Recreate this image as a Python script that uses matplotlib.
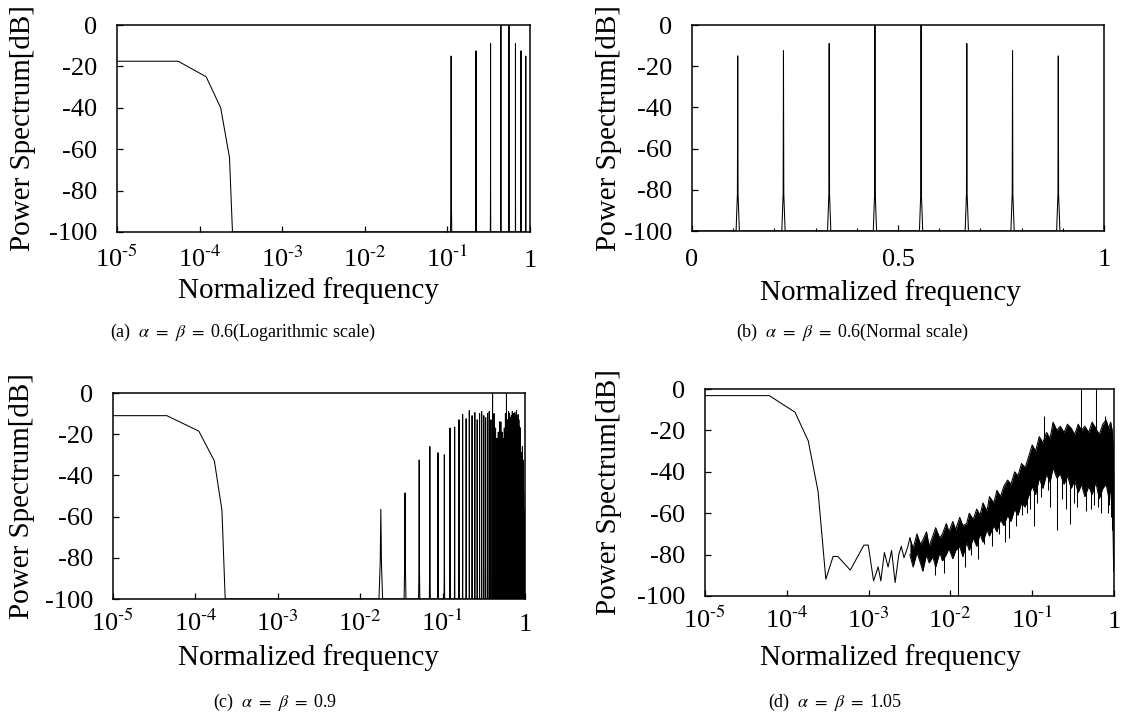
import matplotlib
matplotlib.use("Agg")
import matplotlib.pyplot as plt
import numpy as np

plt.rcParams["font.family"] = ["Liberation Serif", "DejaVu Serif"]
plt.rcParams["mathtext.fontset"] = "stix"
plt.rcParams["axes.unicode_minus"] = False

# --- (a)/(b) alpha = beta = 0.6 ---
a_low_f = [1e-5, 5.5e-5, 1.2e-4, 1.8e-4, 2.3e-4, 2.5e-4]
a_low_db = [-17.5, -17.5, -25, -40, -64, -100]
a_peak_f = [0.111, 0.222, 0.333, 0.444, 0.556, 0.667, 0.778, 0.889]
a_peak_db = [-15, -12.5, -9, 0, 0, -9, -12.5, -15]

# --- (c) alpha = beta = 0.9 ---
c_low_f = [1e-5, 4.5e-5, 1.1e-4, 1.7e-4, 2.1e-4, 2.3e-4]
c_low_db = [-11, -11, -18.5, -33, -57, -100]
# harmonics up to 0.5, the upper half mirrors them
c_harm_f = [0.0178, 0.035, 0.052, 0.070, 0.088, 0.105, 0.123, 0.140,
            0.158, 0.175, 0.193, 0.211, 0.228, 0.246, 0.263, 0.281,
            0.298, 0.316, 0.333, 0.351, 0.368, 0.386, 0.404, 0.421,
            0.439, 0.456, 0.474, 0.491]
c_harm_db = [-56.5, -48.5, -32.5, -26, -29, -30, -17, -16.5,
             -13, -10.5, -12.5, -8.5, -11, -9.5, -13, -10,
             -9, -11, -12, -10, -9, -13, 0, -10,
             -17, -22, -19, -14]

# --- (d) alpha = beta = 1.05 ---
d_low_f = [1e-5, 6.1e-5, 1.26e-4, 1.83e-4, 2.41e-4, 3.0e-4, 3.68e-4, 4.2e-4,
           5.97e-4, 8.77e-4, 9.9e-4, 1.15e-3, 1.31e-3, 1.41e-3, 1.56e-3,
           1.73e-3, 1.91e-3, 2.11e-3, 2.34e-3, 2.51e-3, 2.71e-3, 3.0e-3,
           3.2e-3]
d_low_db = [-3.2, -3.2, -11.2, -25.1, -49.4, -91.9, -80.9, -80.9,
            -87.5, -75.4, -75.4, -92.7, -85.9, -92.7, -79,
            -86, -78, -93.5, -80, -76, -81.5, -76.5, -72]
# jagged envelope of the dense noisy part
d_band_f = [3.2e-3, 3.5e-3, 3.9e-3, 4.3e-3, 4.6e-3, 5.1e-3, 5.5e-3, 6.1e-3,
            6.6e-3, 7.4e-3, 8.0e-3, 8.9e-3, 9.6e-3, 1.07e-2, 1.16e-2,
            1.3e-2, 1.42e-2, 1.58e-2, 1.7e-2, 1.9e-2, 2.1e-2, 2.3e-2,
            2.5e-2, 2.8e-2, 3.0e-2, 3.4e-2, 3.7e-2, 4.1e-2, 4.5e-2, 5.0e-2,
            5.5e-2, 6.1e-2, 6.7e-2, 7.4e-2, 8.2e-2, 9.0e-2, 0.10, 0.11,
            0.122, 0.135, 0.15, 0.165, 0.18, 0.2, 0.22, 0.245, 0.27, 0.3,
            0.33, 0.365, 0.4, 0.44, 0.49, 0.54, 0.6, 0.66, 0.73, 0.8,
            0.86, 0.91, 0.95, 0.975, 0.99]
d_band_hi = [-72, -77, -70, -75, -73, -69, -76, -71,
             -67, -72, -70, -65, -69, -64, -68,
             -62, -66, -65, -60, -63, -58, -61,
             -55, -59, -52, -55, -49, -52, -47, -44,
             -46, -40, -42, -36, -38, -33, -27, -30,
             -23, -26, -21, -24, -16, -20, -18, -21, -17, -19,
             -22, -17, -20, -18, -21, -16, -19, -22, -17, -15,
             -19, -16, -20, -27, -40]
d_band_lo = [-80, -86, -79, -84, -88, -80, -84, -81,
             -86, -79, -83, -80, -77, -82, -78,
             -76, -81, -74, -78, -72, -76, -70,
             -74, -68, -71, -66, -69, -63, -66, -61,
             -64, -58, -61, -55, -57, -52, -47, -51,
             -43, -48, -41, -45, -38, -43, -41, -46, -42, -48,
             -44, -50, -46, -52, -47, -51, -45, -53, -48, -46,
             -52, -49, -58, -70, -88]
# isolated spikes sticking out of the noise band
d_spike_f = [1.25e-2, 1.8e-2, 2.6e-2, 5.2e-2, 8.6e-2, 0.105, 0.14, 0.165,
             0.20, 0.26, 0.29, 0.40, 0.52, 0.60, 0.7, 0.78, 0.93, 0.95,
             6.4e-3, 8.4e-3, 1.5e-2, 2.2e-2, 3.2e-2, 3.9e-2, 4.6e-2,
             6.4e-2, 7.6e-2, 0.095, 0.116, 0.128, 0.155, 0.23, 0.32,
             0.35, 0.45, 0.57, 0.64, 0.84, 0.88]
d_spike_base = [-75, -70, -65, -56, -45, -40, -25, -35,
                -38, -40, -40, -25, -45, -25, -45, -25, -45, -40,
                -80, -78, -74, -70, -64, -60, -62,
                -55, -50, -45, -45, -40, -38, -40, -40,
                -45, -45, -45, -42, -45, -45]
d_spike_db = [-100, -80, -75, -72, -60, -66, -13, -57,
              -68, -58, -65, 0, -58, 0, -60, -13, -62, -68,
              -90, -89, -86, -82, -76, -70, -74,
              -66, -61, -58, -55, -52, -49, -53, -55,
              -57, -59, -56, -57, -60, -56]

captions = [r"(a)  $\alpha\ =\ \beta\ =\ $0.6(Logarithmic scale)",
            r"(b)  $\alpha\ =\ \beta\ =\ $0.6(Normal scale)",
            r"(c)  $\alpha\ =\ \beta\ =\ $0.9",
            r"(d)  $\alpha\ =\ \beta\ =\ $1.05"]

W, H = 1126, 715
LW = 0.75


def peak_line(freqs, dbs, half=0.004, neck=0.0008, floor=-100):
    xs, ys = [], []
    for f, h in zip(freqs, dbs):
        xs += [f - half, f - neck, f, f + neck, f + half]
        ys += [floor, -82, h, -82, floor]
    return xs, ys


def style(ax, xlab, ylab, xpad, log=True):
    ax.set_ylim(-100, 0)
    ax.set_yticks([-100, -80, -60, -40, -20, 0])
    if log:
        ax.set_xscale("log")
        ax.set_xlim(1e-5, 1)
        ax.set_xticks([1e-5, 1e-4, 1e-3, 1e-2, 1e-1, 1])
        ax.set_xticklabels([r"10$^{\text{-5}}$", r"10$^{\text{-4}}$",
                            r"10$^{\text{-3}}$", r"10$^{\text{-2}}$",
                            r"10$^{\text{-1}}$", "1"], va="baseline")
    else:
        ax.set_xlim(0, 1)
        ax.set_xticks([0, 0.5, 1])
        ax.set_xticklabels(["0", "0.5", "1"], va="baseline")
        ax.set_xticks(np.arange(0.1, 1.0, 0.1), minor=True)
    ax.tick_params(direction="in", which="both", labelsize=19,
                   top=False, right=False)
    ax.tick_params(axis="x", pad=xpad)
    ax.tick_params(axis="y", pad=14)
    ax.tick_params(which="major", length=4, width=0.9)
    ax.tick_params(which="minor", length=2.2, width=0.8)
    ax.tick_params(axis="y", which="minor", left=False)
    for s in ax.spines.values():
        s.set_linewidth(1.1)
    ax.set_xlabel("Normalized frequency", fontsize=21, va="center")
    ax.set_ylabel("Power Spectrum[dB]", fontsize=21, va="center")
    ax.xaxis.set_label_coords(xlab[0] / W, 1 - xlab[1] / H, transform=fig.transFigure)
    ax.yaxis.set_label_coords(ylab[0] / W, 1 - ylab[1] / H, transform=fig.transFigure)


def box(l, r, t, b):
    return [l / W, 1 - b / H, (r - l) / W, (b - t) / H]


fig = plt.figure(figsize=(W / 100, H / 100), dpi=100)
ax_a = fig.add_axes(box(117, 530, 25, 232))
ax_b = fig.add_axes(box(692, 1104, 25, 231))
ax_c = fig.add_axes(box(113, 525, 393, 599))
ax_d = fig.add_axes(box(705, 1114, 389, 596))

# (a)
px, py = peak_line(a_peak_f, a_peak_db, half=0.002, neck=0.0005)
ax_a.plot(a_low_f + [0.1] + px, a_low_db + [-100] + py, color="k", lw=LW)
style(ax_a, (309, 291), (23, 128), 25)

# (b)
px, py = peak_line(a_peak_f, a_peak_db)
ax_b.plot([0] + px + [1], [-100] + py + [-100], color="k", lw=LW)
style(ax_b, (891, 293), (609, 128), 25, log=False)

# (c)
cf = c_harm_f + [1 - f for f in c_harm_f[::-1]]
cd = c_harm_db + c_harm_db[::-1]
px, py = peak_line(cf, cd, half=0.0009, neck=0.0003)
ax_c.plot(c_low_f + px + [1], c_low_db + py + [-100], color="k", lw=LW)
style(ax_c, (309, 658), (22, 496), 23)

# (d)
ax_d.plot(d_low_f, d_low_db, color="k", lw=LW)
ax_d.fill_between(d_band_f, d_band_lo, d_band_hi, color="k", lw=0)
ax_d.plot(d_band_f, d_band_hi, color="k", lw=LW)
ax_d.plot(d_band_f, d_band_lo, color="k", lw=LW)
ax_d.vlines(d_spike_f, d_spike_base, d_spike_db, color="k", lw=LW)
style(ax_d, (891, 658), (609, 492), 23)

for (cx, cy), txt in zip([(243, 332), (852, 332), (275, 702), (835, 702)], captions):
    fig.text(cx / W, 1 - cy / H, txt, ha="center", va="center", fontsize=13)

fig.savefig("out.png", dpi=100)
